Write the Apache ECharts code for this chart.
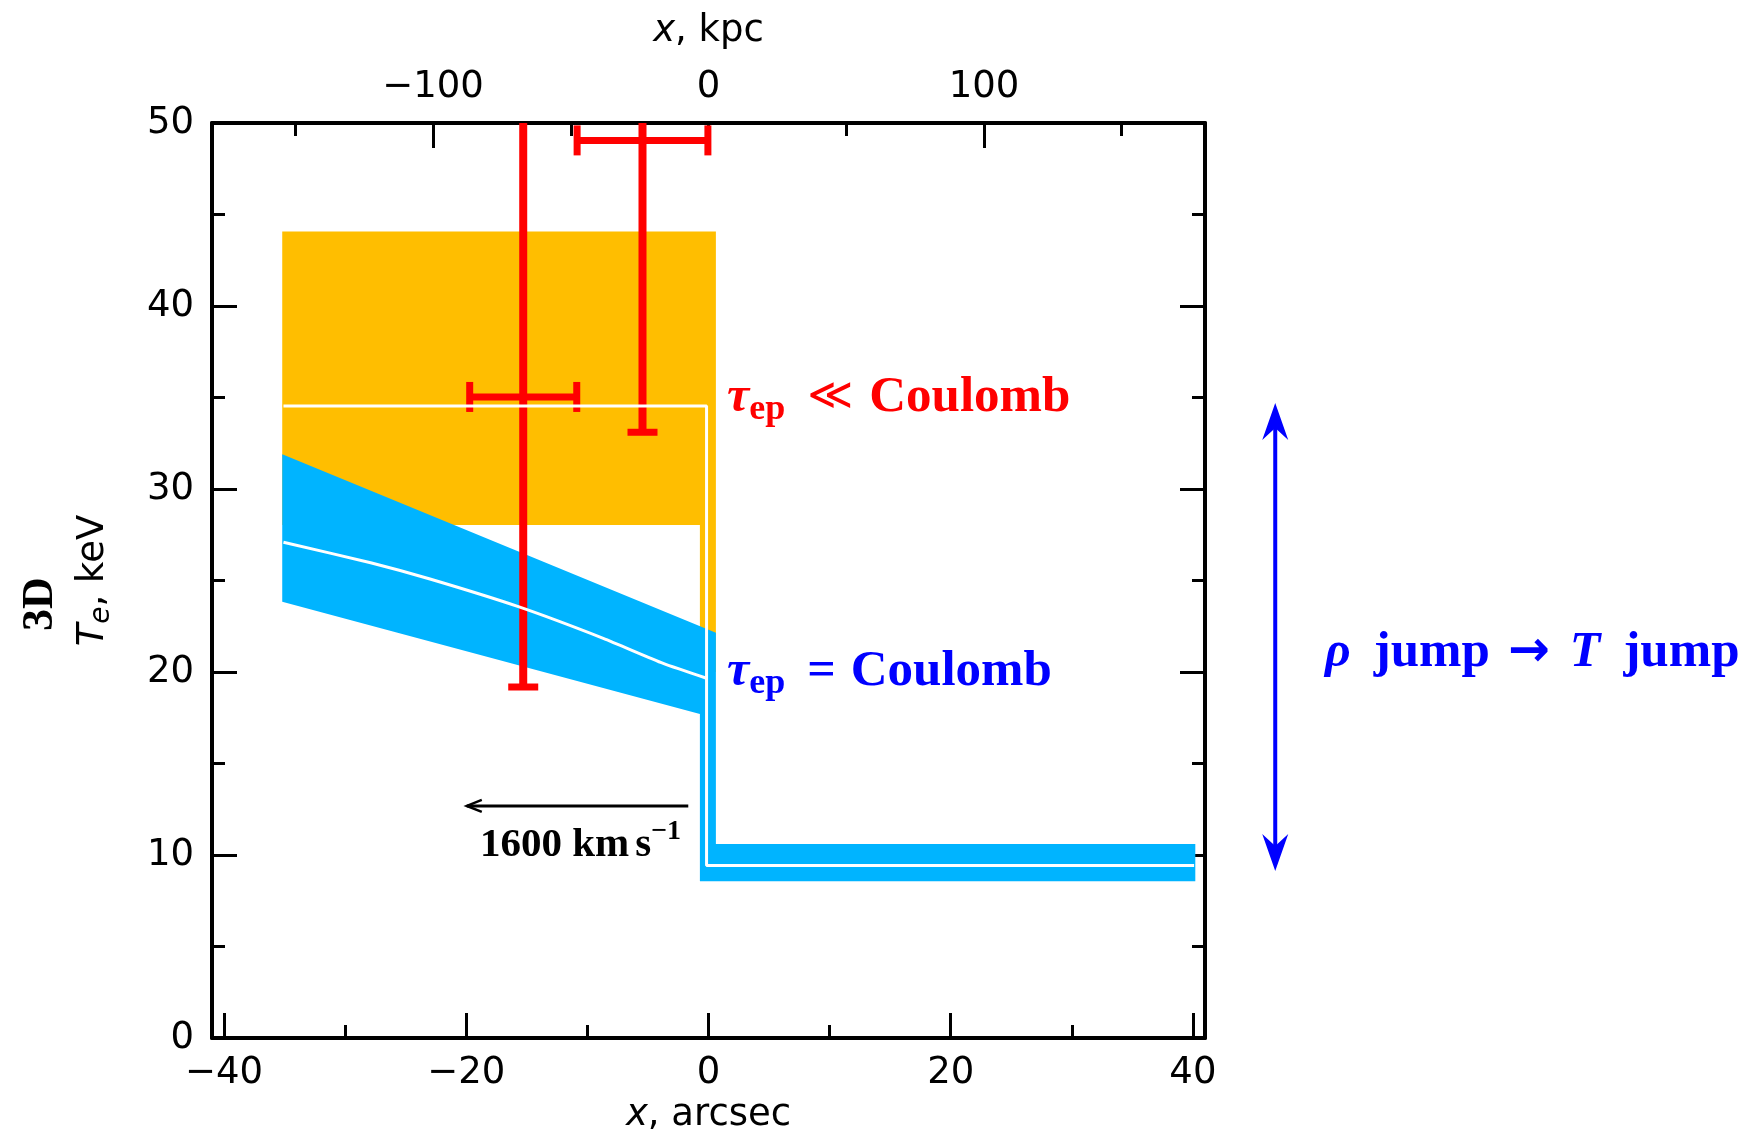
<!DOCTYPE html>
<html>
<head>
<meta charset="utf-8">
<script src="https://cdn.jsdelivr.net/npm/echarts@6/dist/echarts.min.js"></script>
<style>
html, body { margin: 0; padding: 0; background: #fff; }
#chart { width: 1754px; height: 1143px; }
</style>
</head>
<body>
<div id="chart"></div>
<script>
// frame range (arcsec, keV) and kpc scale of the top axis
const xRange = [-41, 41];
const yRange = [0, 50];
const kpcPerArcsec = 4.396;

const arcsecMajor = [-40, -20, 0, 20, 40];
const arcsecMinor = [-30, -10, 10, 30];
const kpcMajor = [-100, 0, 100];
const kpcMinor = [-150, -50, 50, 150];

// model bands, [x arcsec, T keV]
const fastBand = [[-35.2, 44.07], [0.61, 44.07], [0.61, 20], [-0.71, 20], [-0.71, 28.03], [-35.2, 28.03]];
const coulombBand = [[-35.2, 31.9], [0.61, 22.15], [0.61, 10.6], [40.2, 10.6], [40.2, 8.57], [-0.71, 8.57], [-0.71, 17.7], [-35.2, 23.84]];

// best fit model lines (the post-shock part is shared)
const fastModel = [[-35.1, 34.54], [-0.16, 34.54], [-0.16, 9.42], [40.1, 9.42]];
const coulombModel = [[-35.1, 27.09], [-27.9, 25.97], [-23.0, 25.08], [-15.7, 23.57], [-8.69, 21.84],
  [-3.74, 20.47], [-0.16, 19.66]];

// measured temperatures
const obsX = [-15.3, -5.45];
const obsXErr = [4.42, 5.4];
const obsT = [35.03, 49.05];
const obsTLow = [19.18, 33.1];
const obsTHigh = [62, 62];

// arrows
const velocityArrow = [[-1.67, 12.68], [-19.96, 12.68]];
const jumpArrow = [[46.8, 9.13], [46.8, 34.7]];

const orange = '#ffbe00';
const cyan = '#00b4ff';
const red = '#ff0000';
const blue = '#0000ff';
const sans = "'DejaVu Sans', sans-serif";
const serif = "'Liberation Serif', 'DejaVu Serif', serif";

const minus = v => String(v).replace('-', '\u2212');

const chart = echarts.init(document.getElementById('chart'));

function tickAxis(pos, range, values, len, extra) {
    return Object.assign({
        type: 'value',
        position: pos,
        min: range[0],
        max: range[1],
        axisLine: { show: false, onZero: false },
        axisTick: { show: true, inside: true, length: len, customValues: values, lineStyle: { color: '#000', width: 3 } },
        axisLabel: { show: false },
        splitLine: { show: false }
    }, extra || {});
}

const labelStyle = { color: '#000', fontFamily: sans, fontSize: 37 };
const frameLine = { show: true, onZero: false, lineStyle: { color: '#000', width: 4 } };

function bandSeries(points, color) {
    return {
        type: 'custom',
        silent: true,
        data: [points[0]],
        renderItem: (params, api) => ({
            type: 'polygon',
            shape: { points: points.map(p => api.coord(p)) },
            style: { fill: color }
        })
    };
}

function modelLine(points, smooth) {
    return {
        type: 'line',
        data: points,
        showSymbol: false,
        silent: true,
        smooth: smooth || false,
        lineStyle: { color: '#fff', width: 3 }
    };
}

// rich text pieces for the annotations
function label(color, sep) {
    return {
        text: '{t|τ}{s|ep}{g|' + sep + '}{n|Coulomb}',
        fill: color, align: 'left', verticalAlign: 'middle',
        rich: {
            t: { font: 'italic bold 50px ' + serif, fill: color, lineHeight: 60, verticalAlign: 'middle' },
            s: { font: 'bold 36px ' + serif, fill: color, lineHeight: 60, verticalAlign: 'bottom' },
            g: sep === '≪'
                ? { font: '44px ' + sans, fill: color, lineHeight: 60, verticalAlign: 'middle', padding: [0, 16, 0, 22] }
                : { font: 'bold 50px ' + serif, fill: color, lineHeight: 60, verticalAlign: 'middle', padding: [0, 15, 0, 22] },
            n: { font: 'bold 51px ' + serif, fill: color, lineHeight: 60, verticalAlign: 'middle' }
        }
    };
}

let option = {
    animation: false,
    backgroundColor: '#fff',
    grid: { left: 212, top: 123, width: 993, height: 915 },
    xAxis: [
        tickAxis('bottom', xRange, arcsecMajor, 25, {
            axisLine: frameLine,
            axisLabel: { show: true, customValues: arcsecMajor, margin: 17, formatter: minus, ...labelStyle },
            name: '{i|x}, arcsec',
            nameLocation: 'middle',
            nameGap: 57,
            nameTextStyle: { ...labelStyle, rich: { i: { fontStyle: 'italic', fontSize: 37, fontFamily: sans } } }
        }),
        tickAxis('bottom', xRange, arcsecMinor, 13),
        tickAxis('top', [xRange[0] * kpcPerArcsec, xRange[1] * kpcPerArcsec], kpcMajor, 25, {
            axisLine: frameLine,
            axisLabel: { show: true, customValues: kpcMajor, margin: 17, formatter: minus, ...labelStyle },
            name: '{i|x}, kpc',
            nameLocation: 'middle',
            nameGap: 73,
            nameTextStyle: { ...labelStyle, rich: { i: { fontStyle: 'italic', fontSize: 37, fontFamily: sans } } }
        }),
        tickAxis('top', [xRange[0] * kpcPerArcsec, xRange[1] * kpcPerArcsec], kpcMinor, 13)
    ],
    yAxis: [{
        type: 'value',
        position: 'left',
        min: yRange[0],
        max: yRange[1],
        interval: 10,
        axisLine: frameLine,
        axisTick: { inside: true, length: 25, lineStyle: { color: '#000', width: 3 } },
        minorTick: { show: true, splitNumber: 2, length: 13, lineStyle: { color: '#000', width: 3 } },
        axisLabel: { margin: 18, ...labelStyle },
        splitLine: { show: false },
        name: '{i|T}{e|e}{n|, keV}',
        nameLocation: 'middle',
        nameGap: 96,
        nameTextStyle: {
            ...labelStyle,
            rich: {
                i: { fontStyle: 'italic', fontSize: 37, fontFamily: sans, lineHeight: 46, verticalAlign: 'middle' },
                e: { fontStyle: 'italic', fontSize: 28, fontFamily: sans, lineHeight: 46, verticalAlign: 'bottom' },
                n: { fontSize: 37, fontFamily: sans, lineHeight: 46, verticalAlign: 'middle' }
            }
        }
    }, {
        type: 'value',
        position: 'right',
        min: yRange[0],
        max: yRange[1],
        interval: 10,
        axisLine: frameLine,
        axisTick: { inside: true, length: 25, lineStyle: { color: '#000', width: 3 } },
        minorTick: { show: true, splitNumber: 2, length: 13, lineStyle: { color: '#000', width: 3 } },
        axisLabel: { show: false },
        splitLine: { show: false }
    }],
    series: [
        bandSeries(fastBand, orange),
        bandSeries(coulombBand, cyan),
        modelLine(fastModel),
        modelLine(coulombModel, 0.2),
        {
            // error bars, clipped at the top of the frame
            type: 'custom',
            silent: true,
            data: obsX.map((x, i) => [x, obsT[i], obsXErr[i], obsTLow[i], obsTHigh[i]]),
            renderItem: (params, api) => {
                const x = api.value(0), t = api.value(1), xe = api.value(2);
                const c = api.coord([x, t]);
                const lo = api.coord([x, api.value(3)]);
                const hi = api.coord([x, api.value(4)]);
                const l = api.coord([x - xe, t]);
                const r = api.coord([x + xe, t]);
                const top = Math.max(hi[1], params.coordSys.y);
                const cap = 15;
                const st = w => ({ stroke: red, lineWidth: w });
                const kids = [
                    { type: 'line', shape: { x1: c[0], y1: top, x2: c[0], y2: lo[1] }, style: st(8) },
                    { type: 'line', shape: { x1: c[0] - cap, y1: lo[1], x2: c[0] + cap, y2: lo[1] }, style: st(7) },
                    { type: 'line', shape: { x1: l[0], y1: c[1], x2: r[0], y2: c[1] }, style: st(7) },
                    { type: 'line', shape: { x1: l[0], y1: c[1] - cap, x2: l[0], y2: c[1] + cap }, style: st(7) },
                    { type: 'line', shape: { x1: r[0], y1: c[1] - cap, x2: r[0], y2: c[1] + cap }, style: st(7) }
                ];
                if (hi[1] > params.coordSys.y) {
                    kids.push({ type: 'line', shape: { x1: c[0] - cap, y1: hi[1], x2: c[0] + cap, y2: hi[1] }, style: st(7) });
                }
                return { type: 'group', children: kids };
            }
        },
        {
            // shock velocity arrow
            type: 'custom',
            silent: true,
            data: [velocityArrow[0]],
            renderItem: (params, api) => {
                const a = api.coord(velocityArrow[0]);
                const b = api.coord(velocityArrow[1]);
                return {
                    type: 'group',
                    children: [
                        { type: 'line', shape: { x1: a[0], y1: a[1], x2: b[0], y2: b[1] }, style: { stroke: '#000', lineWidth: 3 } },
                        { type: 'polyline', shape: { points: [[b[0] + 15, b[1] - 6], [b[0], b[1]], [b[0] + 15, b[1] + 6]] },
                          style: { stroke: '#000', lineWidth: 2.5, fill: null } }
                    ]
                };
            }
        },
        {
            // density jump -> temperature jump arrow, right of the frame
            type: 'custom',
            silent: true,
            clip: false,
            data: [jumpArrow[0]],
            renderItem: (params, api) => {
                const a = api.coord(jumpArrow[0]);
                const b = api.coord(jumpArrow[1]);
                const head = (p, dir) => ({
                    type: 'polygon',
                    shape: { points: [[p[0], p[1]], [p[0] - 13, p[1] + dir * 37], [p[0], p[1] + dir * 25], [p[0] + 13, p[1] + dir * 37]] },
                    style: { fill: blue }
                });
                return {
                    type: 'group',
                    children: [
                        { type: 'line', shape: { x1: a[0], y1: a[1] - 20, x2: b[0], y2: b[1] + 20 }, style: { stroke: blue, lineWidth: 4 } },
                        head(b, 1),
                        head(a, -1)
                    ]
                };
            }
        }
    ],
    graphic: [
        {
            type: 'text', x: 41, y: 604, rotation: Math.PI / 2,
            style: { text: '3D', font: 'bold 44px ' + serif, fill: '#000', align: 'center', verticalAlign: 'middle' }
        },
        { type: 'text', x: 727, y: 398, style: label(red, '≪') },
        { type: 'text', x: 727, y: 672, style: label(blue, '=') },
        {
            type: 'text', x: 1325, y: 653,
            style: {
                text: '{i|ρ}{j|jump}{a|→}{i|T}{j|jump}',
                fill: blue, align: 'left', verticalAlign: 'middle',
                rich: {
                    i: { font: 'italic bold 50px ' + serif, fill: blue, lineHeight: 60 },
                    j: { font: 'bold 51px ' + serif, fill: blue, lineHeight: 60, padding: [0, 0, 0, 23] },
                    a: { font: 'bold 50px ' + sans, fill: blue, lineHeight: 60, padding: [0, 20, 0, 18] }
                }
            }
        },
        {
            type: 'text', x: 480, y: 845,
            style: {
                text: '{n|1600 km}{s|s}{p|−1}',
                fill: '#000', align: 'left', verticalAlign: 'middle',
                rich: {
                    n: { font: 'bold 41px ' + serif, fill: '#000', lineHeight: 55, verticalAlign: 'middle' },
                    s: { font: 'bold 41px ' + serif, fill: '#000', lineHeight: 55, verticalAlign: 'middle', padding: [0, 0, 0, 6] },
                    p: { font: 'bold 28px ' + serif, fill: '#000', lineHeight: 55, verticalAlign: 'top' }
                }
            }
        }
    ]
};
chart.setOption(option);
</script>
</body>
</html>
